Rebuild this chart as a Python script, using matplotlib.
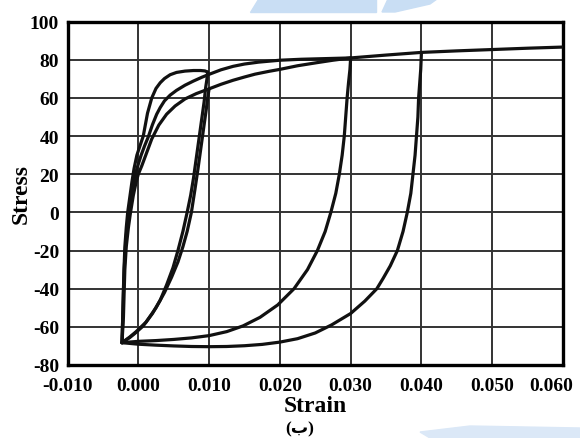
import matplotlib
matplotlib.use("Agg")
import matplotlib.pyplot as plt
from matplotlib.patches import Polygon
from matplotlib.transforms import ScaledTranslation

plt.rcParams['font.family'] = ['Liberation Serif', 'DejaVu Sans']
plt.rcParams['font.weight'] = 'bold'
plt.rcParams['axes.unicode_minus'] = False

# loading / reloading branches (strain, stress)
reload_a_x = [-0.0023, -0.0022, -0.0021, -0.0020, -0.0019, -0.0017, -0.0015, -0.0012, -0.0009,
              -0.0006, -0.0002, 0.0002, 0.0007, 0.0013, 0.0019, 0.0025, 0.0031, 0.0037,
              0.0045, 0.0054, 0.0066, 0.0078, 0.0088, 0.0094, 0.0098]
reload_a_y = [-68.3, -55, -40, -28, -18, -8, 0, 8, 16,
              23, 30, 34.5, 40, 52, 60, 65, 68, 70.2,
              72.2, 73.4, 74.1, 74.4, 74.4, 74.2, 73.6]

reload_b_x = [-0.0023, -0.0022, -0.0021, -0.0020, -0.0018, -0.0016, -0.0013, -0.0010, -0.0006,
              -0.0002, 0.0004, 0.0009, 0.0014, 0.0020, 0.0026, 0.0031, 0.0037, 0.0045,
              0.0054, 0.0066, 0.0078, 0.0090, 0.0100, 0.0117, 0.0134, 0.0150, 0.0170,
              0.0200, 0.0230, 0.0260, 0.0300]
reload_b_y = [-68.3, -55, -42, -30, -18, -8, 0, 8, 16,
              23, 30, 35, 39.5, 46, 51.5, 55, 58.5, 61.5,
              64, 66.7, 68.9, 70.9, 72.4, 74.8, 76.6, 77.8, 78.8,
              79.8, 80.3, 80.6, 81]

backbone_x = [-0.0023, -0.0021, -0.0020, -0.0019, -0.0017, -0.0014, -0.0011, -0.0007, -0.0003,
              0.0000, 0.0005, 0.0011, 0.0019, 0.0029, 0.0040, 0.0052, 0.0066, 0.0082,
              0.0100, 0.0117, 0.0134, 0.0150, 0.0165, 0.0185, 0.0200, 0.0225, 0.0252,
              0.0275, 0.0300, 0.0350, 0.0400, 0.0450, 0.0500, 0.0550, 0.0600]
backbone_y = [-68.3, -55, -42, -30, -18, -8, 0, 9, 16,
              20, 24.5, 30.5, 38.5, 45.8, 51.5, 55.8, 59.5, 62.3,
              64.8, 67.2, 69.3, 71, 72.5, 74, 75, 76.9, 78.5,
              79.8, 81, 82.5, 83.9, 84.7, 85.4, 86.1, 86.7]

# unloading branches
unload_1_x = [0.0098, 0.0097, 0.0095, 0.0093, 0.0090, 0.0087, 0.0084, 0.0081, 0.0078, 0.0074,
              0.0069, 0.0063, 0.0056, 0.0049, 0.0040, 0.0031, 0.0020, 0.0007, -0.0005,
              -0.0012, -0.0023]
unload_1_y = [73.6, 70, 65, 58, 50, 42, 34, 26, 18, 9,
              0, -10, -20, -29, -38, -46, -53, -59.5, -63.5,
              -65.6, -68.3]

unload_2_x = [0.0100, 0.0098, 0.0096, 0.0093, 0.0090, 0.0087, 0.0084, 0.0080, 0.0075, 0.0069,
              0.0063, 0.0056, 0.0047, 0.0037, 0.0025, 0.0011, -0.0003, -0.0012, -0.0023]
unload_2_y = [64.8, 60, 54, 46, 38, 30, 22, 12, 0, -10,
              -18, -26, -34, -42, -50, -57.5, -62.5, -65.3, -68.3]

unload_3_x = [0.0300, 0.0299, 0.0297, 0.0295, 0.0293, 0.0291, 0.0288, 0.0284, 0.0279, 0.0272,
              0.0264, 0.0253, 0.0239, 0.0220, 0.0197, 0.0172, 0.0148, 0.0125, 0.0100,
              0.0075, 0.0050, 0.0025, 0.0000, -0.0023]
unload_3_y = [81, 75, 68, 60, 50, 40, 30, 20, 10, 0,
              -10, -20, -30, -40, -48.5, -55, -59.5, -62.5, -64.6,
              -65.8, -66.6, -67.2, -67.6, -68.3]

unload_4_x = [0.0400, 0.0399, 0.0397, 0.0396, 0.0395, 0.0393, 0.0391, 0.0388, 0.0385, 0.0380,
              0.0374, 0.0366, 0.0356, 0.0346, 0.0337, 0.0320, 0.0300, 0.0273, 0.0250,
              0.0225, 0.0200, 0.0175, 0.0150, 0.0125, 0.0100, 0.0075, 0.0050, 0.0025,
              0.0000, -0.0023]
unload_4_y = [83.9, 75, 65, 60, 50, 40, 30, 20, 10, 0,
              -10, -20, -28, -34.5, -40, -46.5, -53, -59, -63.2,
              -66.2, -68, -69.2, -69.9, -70.3, -70.4, -70.3, -70, -69.6,
              -69.1, -68.3]

x_ticks = [-0.010, 0.000, 0.010, 0.020, 0.030, 0.040, 0.050, 0.060]
y_ticks = [-80, -60, -40, -20, 0, 20, 40, 60, 80, 100]

fig = plt.figure(figsize=(5.8, 4.39), dpi=100)
ax = fig.add_axes([0.1164, 0.1663, 0.8543, 0.7820])

branches = [(reload_a_x, reload_a_y), (reload_b_x, reload_b_y), (backbone_x, backbone_y),
            (unload_1_x, unload_1_y), (unload_2_x, unload_2_y),
            (unload_3_x, unload_3_y), (unload_4_x, unload_4_y)]
for bx, by in branches:
    ax.plot(bx, by, color='#111111', lw=2.3, solid_joinstyle='round', solid_capstyle='round', zorder=3)

ax.set_xlim(-0.010, 0.060)
ax.set_ylim(-80, 100)
ax.set_xticks(x_ticks)
ax.set_yticks(y_ticks)
ax.set_xticklabels(['%.3f' % v for v in x_ticks])
ax.set_yticklabels([str(v) for v in y_ticks])
ax.grid(True, color='#333333', lw=1.4)
ax.set_axisbelow(True)
ax.tick_params(length=0, labelsize=14, pad=6)
ax.tick_params(axis='x', pad=8.5)
for s in ax.spines.values():
    s.set_linewidth(2.4)
    s.set_color('black')

# keep the last strain label inside the figure
last = ax.get_xticklabels()[-1]
last.set_transform(last.get_transform() + ScaledTranslation(-0.12, 0, fig.dpi_scale_trans))

ax.set_xlabel('Strain', fontsize=17, fontweight='bold', labelpad=1)
ax.set_ylabel('Stress', fontsize=17, fontweight='bold', labelpad=-1.5)

fig.text(0.516, 1 - 421 / 439, '(ب)', ha='center', va='top', fontsize=12.5,
         family=['Liberation Serif', 'DejaVu Sans'])

# faint blue bands at the page edges
blue = '#c9def4'
fig.patches.append(Polygon([[258 / 580, 1], [376 / 580, 1], [376 / 580, 1 - 13 / 439], [250 / 580, 1 - 13 / 439]],
                           closed=True, transform=fig.transFigure, color=blue, zorder=0))
fig.patches.append(Polygon([[388 / 580, 1], [437 / 580, 1], [430 / 580, 1 - 5 / 439], [395 / 580, 1 - 13 / 439], [382 / 580, 1 - 13 / 439]],
                           closed=True, transform=fig.transFigure, color=blue, zorder=0))
fig.patches.append(Polygon([[470 / 580, 1 - 427 / 439], [580 / 580, 1 - 429 / 439], [580 / 580, 0],
                            [430 / 580, 0], [420 / 580, 1 - 433 / 439]],
                           closed=True, transform=fig.transFigure, color='#dbe8f7', zorder=0))

fig.savefig('out.png', dpi=100)
